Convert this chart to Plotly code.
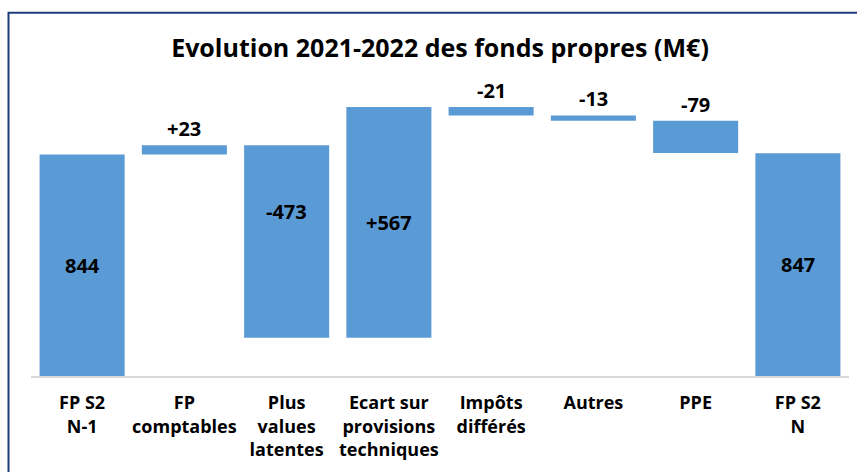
import plotly.graph_objects as go

categories = ["FP S2<br>N-1", "FP<br>comptables", "Plus<br>values<br>latentes",
              "Ecart sur<br>provisions<br>techniques", "Impôts<br>différés",
              "Autres", "PPE", "FP S2<br>N"]
changes = [844, 23, -473, 567, -21, -13, -79, 847]
kinds = ["total", "relative", "relative", "relative", "relative", "relative", "relative", "total"]
labels = ["844", "+23", "-473", "+567", "-21", "-13", "-79", "847"]
label_inside = [True, False, True, True, False, False, False, True]
label_shift = [0, 0, 30, 0, 0, 0, 0, 0]  # pixel nudges (style)

Y_MIN, Y_MAX = 300, 1150
BLUE = "#5B9BD5"
FONT = "Open Sans"

# compute floating bar bases/heights from data
bases, heights = [], []
running = 0
for v, k in zip(changes, kinds):
    if k == "total":
        bases.append(0)
        heights.append(v)
        running = v
    else:
        new = running + v
        bases.append(min(running, new))
        heights.append(abs(v))
        running = new

fig = go.Figure(go.Bar(
    x=categories, y=heights, base=bases,
    marker=dict(color=BLUE, line=dict(width=0)),
    hoverinfo="skip",
))

for c, b, h, lab, ins, sh in zip(categories, bases, heights, labels, label_inside, label_shift):
    top = b + h
    if ins:
        yc = (max(b, Y_MIN) + top) / 2
        fig.add_annotation(x=c, y=yc, text=lab, showarrow=False, yanchor="middle",
                           yshift=sh, font=dict(family=FONT, size=20, color="black", weight="bold"))
    else:
        fig.add_annotation(x=c, y=top, text=lab, showarrow=False, yanchor="bottom",
                           yshift=1, font=dict(family=FONT, size=20, color="black", weight="bold"))

# chart border (top and left visible)
fig.add_shape(type="rect", xref="paper", yref="paper",
              x0=-0.0275, x1=1.05, y0=-0.5, y1=1.05,
              line=dict(color="#1F3C7A", width=2), fillcolor="rgba(0,0,0,0)", layer="below")

fig.update_layout(
    width=857, height=472,
    margin=dict(l=31, r=8, t=30, b=96),
    paper_bgcolor="white", plot_bgcolor="white",
    bargap=0.168,
    showlegend=False,
    title=dict(text="Evolution 2021-2022 des fonds propres (M€)",
               x=0.5, xref="paper", xanchor="center",
               y=1 - 48 / 472, yref="container", yanchor="middle",
               font=dict(family=FONT, size=25, color="black", weight="bold")),
    xaxis=dict(showgrid=False, showline=True, linecolor="#D9D9D9", linewidth=1.5,
               ticks="outside", ticklen=10, tickcolor="rgba(0,0,0,0)",
               tickfont=dict(family=FONT, size=18, color="black", weight="bold"),
               fixedrange=True),
    yaxis=dict(range=[Y_MIN, Y_MAX], showgrid=False, zeroline=False, showticklabels=False,
               showline=False, fixedrange=True),
)

fig.write_html("out.html", config={"displayModeBar": False},
               post_script="document.body.style.margin='0';")
